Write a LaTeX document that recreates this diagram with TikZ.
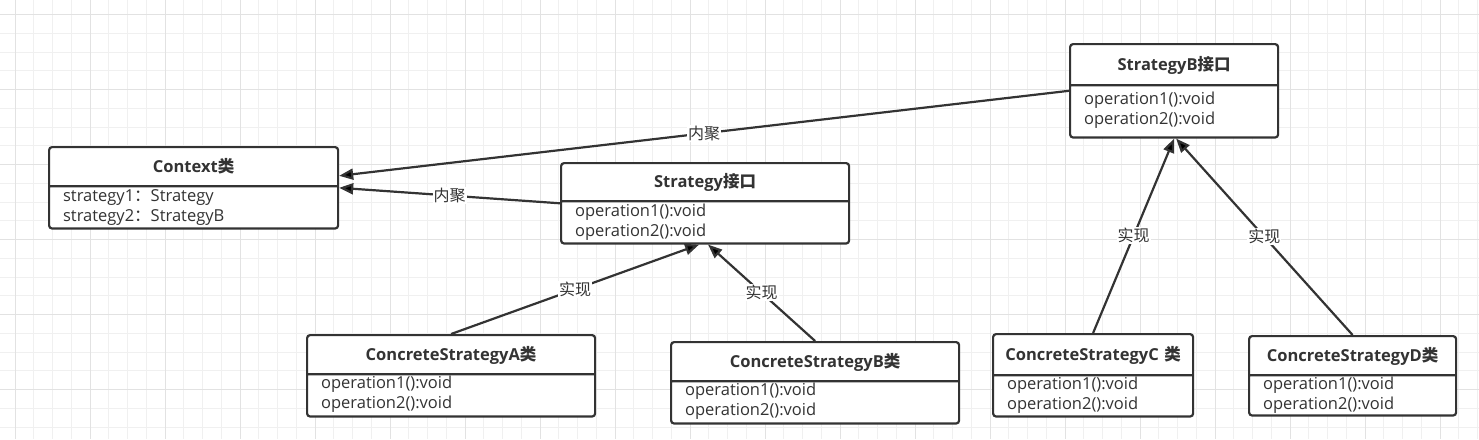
\documentclass[tikz,border=0pt]{standalone}
\usepackage{fontspec}
\setmainfont{Open Sans}
\newfontfamily\cjk{Noto Sans CJK SC}
\usetikzlibrary{arrows.meta,shapes.multipart}
\definecolor{ink}{HTML}{333333}
\definecolor{gridlo}{HTML}{F0F0F0}
\definecolor{gridhi}{HTML}{E2E2E2}

\begin{document}
\begin{tikzpicture}[x=1pt,y=-1pt,>={Triangle[length=14pt,width=11pt]},
    font=\fontsize{16.5}{20}\selectfont,
    klass/.style={rectangle split,rectangle split parts=2,draw=ink,text=ink,
      line width=2.2pt,rounded corners=3pt,fill=white,inner xsep=14pt,inner ysep=0pt,
      anchor=north west},
    link/.style={->,draw=ink,line width=2.2pt},
    lbl/.style={fill=white,text=ink,inner sep=1pt,font=\cjk\fontsize{16}{20}\selectfont}]
    \useasboundingbox (0,0) rectangle (1479,439);
    % background grid
    \foreach \gx in {15,33.75,...,1479} \draw[gridlo,line width=1pt] (\gx,0) -- (\gx,439);
    \foreach \gy in {14.5,33.25,...,439} \draw[gridlo,line width=1pt] (0,\gy) -- (1479,\gy);
    \foreach \gx in {15,90,...,1479} \draw[gridhi,line width=1pt] (\gx,0) -- (\gx,439);
    \foreach \gy in {14.5,89.5,...,439} \draw[gridhi,line width=1pt] (0,\gy) -- (1479,\gy);

    \node[klass,text width=261pt] (ctx) at (48,146)
      {\centering\bfseries\rule[-13pt]{0pt}{37pt}Context{\cjk 类}\par
       \nodepart{two}\rule{0pt}{14pt}strategy1{\cjk ：}Strategy\\strategy2{\cjk ：}StrategyB\rule[-6pt]{0pt}{6pt}};
    \node[klass,text width=260pt] (strat) at (560,162)
      {\centering\bfseries\rule[-13pt]{0pt}{36pt}Strategy{\cjk 接口}\par
       \nodepart{two}\rule{0pt}{14pt}operation1():void\\operation2():void\rule[-6pt]{0pt}{6pt}};
    \node[klass,text width=180pt] (strb) at (1069,43)
      {\centering\bfseries\rule[-14pt]{0pt}{39pt}StrategyB{\cjk 接口}\par
       \nodepart{two}\rule{0pt}{18pt}operation1():void\\operation2():void\rule[-12pt]{0pt}{12pt}};
    \node[klass,text width=260pt] (csa) at (306,334)
      {\centering\bfseries\rule[-13pt]{0pt}{37pt}ConcreteStrategyA{\cjk 类}\par
       \nodepart{two}\rule{0pt}{13pt}operation1():void\\operation2():void\rule[-7pt]{0pt}{7pt}};
    \node[klass,text width=260pt] (csb) at (670,341)
      {\centering\bfseries\rule[-13pt]{0pt}{37pt}ConcreteStrategyB{\cjk 类}\par
       \nodepart{two}\rule{0pt}{13pt}operation1():void\\operation2():void\rule[-7pt]{0pt}{7pt}};
    \node[klass,text width=172pt] (csc) at (992,333)
      {\bfseries\rule[-14pt]{0pt}{39pt}\makebox[\linewidth]{ConcreteStrategyC {\cjk 类}}\par
       \nodepart{two}\rule{0pt}{13pt}operation1():void\\operation2():void\rule[-6pt]{0pt}{6pt}};
    \node[klass,text width=179pt] (csd) at (1248,335)
      {\centering\bfseries\rule[-13pt]{0pt}{37pt}ConcreteStrategyD{\cjk 类}\par
       \nodepart{two}\rule{0pt}{13pt}operation1():void\\operation2():void\rule[-5pt]{0pt}{5pt}};

    \draw[link] (strb.west) -- node[lbl] {内聚} ([yshift=12pt]ctx.east);
    \draw[link] (strat.west) -- node[lbl] {内聚} (ctx.east);
    \draw[link] (csa.north) -- node[lbl] {实现} ([xshift=-6pt]strat.south);
    \draw[link] (csb.north) -- node[lbl] {实现} ([xshift=3pt]strat.south);
    \draw[link] (csc.north) -- node[lbl] {实现} (strb.south);
    \draw[link] (csd.north) -- node[lbl] {实现} ([xshift=2pt]strb.south);
\end{tikzpicture}
\end{document}
